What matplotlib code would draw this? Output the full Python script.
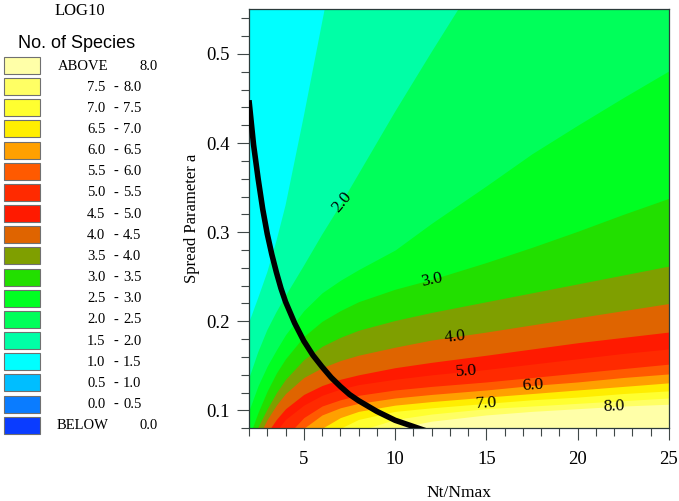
import numpy as np
import matplotlib as mpl
mpl.use('Agg')
import matplotlib.pyplot as plt
from matplotlib.patches import Rectangle
from matplotlib.ticker import MultipleLocator, FormatStrFormatter

mpl.rcParams['font.family'] = 'Liberation Serif'

nt_nmax = [2, 2.5, 3, 3.5, 4, 5, 6, 7, 8, 10, 12, 15, 17.5, 20, 22.5, 25]

# spread parameter a of each LOG10 contour (values outside 0.08-0.55 are clipped)
edge_1_5 = [0.198, 0.226, 0.255, 0.290, 0.330, 0.430, 0.535, 0.640, 0.65, 0.65, 0.65, 0.65, 0.65, 0.65, 0.65, 0.65]
edge_2_0 = [0.135, 0.165, 0.190, 0.210, 0.228, 0.262, 0.297, 0.330, 0.365, 0.435, 0.502, 0.600, 0.65, 0.65, 0.65, 0.65]
edge_2_5 = [0.100, 0.128, 0.150, 0.168, 0.185, 0.212, 0.232, 0.246, 0.258, 0.280, 0.310, 0.352, 0.388, 0.420, 0.451, 0.481]
edge_3_0 = [0.070, 0.098, 0.122, 0.142, 0.158, 0.183, 0.200, 0.212, 0.222, 0.236, 0.247, 0.266, 0.283, 0.301, 0.320, 0.338]
edge_3_5 = [0.060, 0.082, 0.102, 0.120, 0.135, 0.157, 0.172, 0.182, 0.190, 0.201, 0.210, 0.222, 0.232, 0.242, 0.252, 0.262]
edge_4_0 = [0.050, 0.070, 0.090, 0.106, 0.119, 0.137, 0.148, 0.156, 0.162, 0.171, 0.179, 0.188, 0.196, 0.204, 0.212, 0.220]
edge_4_5 = [0.050, 0.050, 0.075, 0.090, 0.102, 0.118, 0.128, 0.135, 0.140, 0.148, 0.154, 0.162, 0.169, 0.176, 0.182, 0.188]
edge_5_0 = [0.050, 0.050, 0.060, 0.077, 0.090, 0.106, 0.117, 0.124, 0.129, 0.135, 0.140, 0.146, 0.152, 0.158, 0.164, 0.169]
edge_5_5 = [0.050, 0.050, 0.050, 0.055, 0.070, 0.092, 0.105, 0.112, 0.117, 0.123, 0.127, 0.132, 0.137, 0.142, 0.147, 0.152]
edge_6_0 = [0.050, 0.050, 0.050, 0.050, 0.060, 0.080, 0.095, 0.103, 0.108, 0.114, 0.118, 0.123, 0.128, 0.132, 0.137, 0.141]
edge_6_5 = [0.050, 0.050, 0.050, 0.050, 0.050, 0.065, 0.080, 0.092, 0.099, 0.106, 0.110, 0.115, 0.119, 0.123, 0.127, 0.131]
edge_7_0 = [0.050, 0.050, 0.050, 0.050, 0.050, 0.050, 0.065, 0.080, 0.090, 0.099, 0.103, 0.108, 0.112, 0.115, 0.119, 0.122]
edge_7_5 = [0.050, 0.050, 0.050, 0.050, 0.050, 0.050, 0.050, 0.065, 0.077, 0.090, 0.096, 0.102, 0.105, 0.108, 0.111, 0.114]
edge_8_0 = [0.050, 0.050, 0.050, 0.050, 0.050, 0.050, 0.050, 0.050, 0.065, 0.080, 0.088, 0.095, 0.099, 0.102, 0.105, 0.107]

# black curve
curve_x = [2.0, 2.25, 2.5, 2.75, 3.0, 3.25, 3.5, 3.75, 4.0, 4.5, 5.0, 5.5, 6.0, 6.5, 7.0, 7.5,
           8.0, 9.0, 10.0, 11.0, 12.0]
curve_y = [0.448, 0.398, 0.360, 0.326, 0.298, 0.275, 0.255, 0.237, 0.222, 0.198, 0.178, 0.162,
           0.149, 0.137, 0.127, 0.118, 0.111, 0.099, 0.089, 0.082, 0.075]

# legend levels (LOG10 No. of Species) and colours, low to high
levels = [0.0, 0.5, 1.0, 1.5, 2.0, 2.5, 3.0, 3.5, 4.0, 4.5, 5.0, 5.5, 6.0, 6.5, 7.0, 7.5, 8.0]
colors = ['#0a3cff', '#0a7cff', '#00beff', '#00ffff', '#00ffa6', '#00ff5a', '#00ff22', '#22df00',
          '#7f9f00', '#df6400', '#ff1a00', '#ff2a00', '#ff5a00', '#ffa000', '#ffee00', '#ffff30',
          '#ffff64', '#ffffa8']

# contour labels: level and Nt/Nmax where it sits
label_levels = [2.0, 3.0, 4.0, 5.0, 6.0, 7.0, 8.0]
label_x = [7.1, 12.0, 13.3, 13.9, 17.55, 15.0, 22.0]

edges = {1.5: edge_1_5, 2.0: edge_2_0, 2.5: edge_2_5, 3.0: edge_3_0, 3.5: edge_3_5,
         4.0: edge_4_0, 4.5: edge_4_5, 5.0: edge_5_0, 5.5: edge_5_5, 6.0: edge_6_0,
         6.5: edge_6_5, 7.0: edge_7_0, 7.5: edge_7_5, 8.0: edge_8_0}

W, H = 679, 501
fig = plt.figure(figsize=(W / 100, H / 100), dpi=100)

#
# Legend panel (pixel coordinates)
#
lax = fig.add_axes([0, 0, 1, 1])
lax.set_xlim(0, W)
lax.set_ylim(H, 0)
lax.axis('off')
lax.text(80, 11, 'LOG10', ha='center', va='center', fontsize=12)
lax.text(77, 43, 'No. of Species', ha='center', va='center', fontsize=13, family='Liberation Sans')
pitch = 21.16
fs = 10.5
for i in range(len(colors)):
    k = len(colors) - 1 - i
    top = 57 + i * pitch
    lax.add_patch(Rectangle((4, top), 36, 17, facecolor=colors[k], edgecolor='#707070', lw=0.8))
    yc = top + 9
    if k == len(colors) - 1:
        lax.text(58, yc, 'ABOVE', ha='left', va='center', fontsize=fs)
        lax.text(140, yc, '%.1f' % levels[-1], ha='left', va='center', fontsize=fs)
    elif k == 0:
        lax.text(57, yc, 'BELOW', ha='left', va='center', fontsize=fs)
        lax.text(139, yc, '%.1f' % levels[0], ha='left', va='center', fontsize=fs)
    else:
        lax.text(87, yc, '%.1f' % levels[k - 1], ha='left', va='center', fontsize=fs)
        lax.text(116, yc, '-', ha='center', va='center', fontsize=fs)
        lax.text(123, yc, '%.1f' % levels[k], ha='left', va='center', fontsize=fs)

#
# Main plot
#
ax = fig.add_axes([249 / W, 1 - 428.3 / H, 420 / W, 419 / H])
ax.set_facecolor(colors[levels.index(1.0) + 1])
for lev in sorted(edges):
    ax.fill_between(nt_nmax, 0, edges[lev], color=colors[levels.index(lev) + 1], lw=0)

ax.plot(curve_x, curve_y, color='black', lw=4, solid_capstyle='butt', solid_joinstyle='round', zorder=5)

# contour labels, rotated along the band edge
for lev, lx in zip(label_levels, label_x):
    e = edges[lev]
    ly = np.interp(lx, nt_nmax, e)
    p0 = ax.transData.transform((lx - 0.3, np.interp(lx - 0.3, nt_nmax, e)))
    p1 = ax.transData.transform((lx + 0.3, np.interp(lx + 0.3, nt_nmax, e)))
    ang = np.degrees(np.arctan2(p1[1] - p0[1], p1[0] - p0[0]))
    ax.text(lx, ly, '%.1f' % lev, rotation=ang, rotation_mode='anchor', ha='center', va='center',
            fontsize=12.5, zorder=6)

ax.set_xlim(2, 25)
ax.set_ylim(0.08, 0.55)
ax.xaxis.set_major_locator(MultipleLocator(5))
ax.xaxis.set_minor_locator(MultipleLocator(1))
ax.yaxis.set_major_locator(MultipleLocator(0.1))
ax.yaxis.set_minor_locator(MultipleLocator(0.02))
ax.xaxis.set_major_formatter(FormatStrFormatter('%d'))
ax.yaxis.set_major_formatter(FormatStrFormatter('%.1f'))
ax.tick_params(which='major', length=8.5, width=0.8, color='#404848', labelsize=13.5)
ax.tick_params(which='minor', length=5.5, width=0.8, color='#404848')
ax.tick_params(axis='x', which='major', pad=8)
ax.tick_params(axis='y', which='major', pad=5)
for s in ax.spines.values():
    s.set_color('#2b3b3b')
    s.set_linewidth(0.9)
ax.set_xlabel('Nt/Nmax', fontsize=12.5, labelpad=12)
ax.set_ylabel('Spread Parameter a', fontsize=12, labelpad=5)

fig.savefig('out.png', dpi=100)
